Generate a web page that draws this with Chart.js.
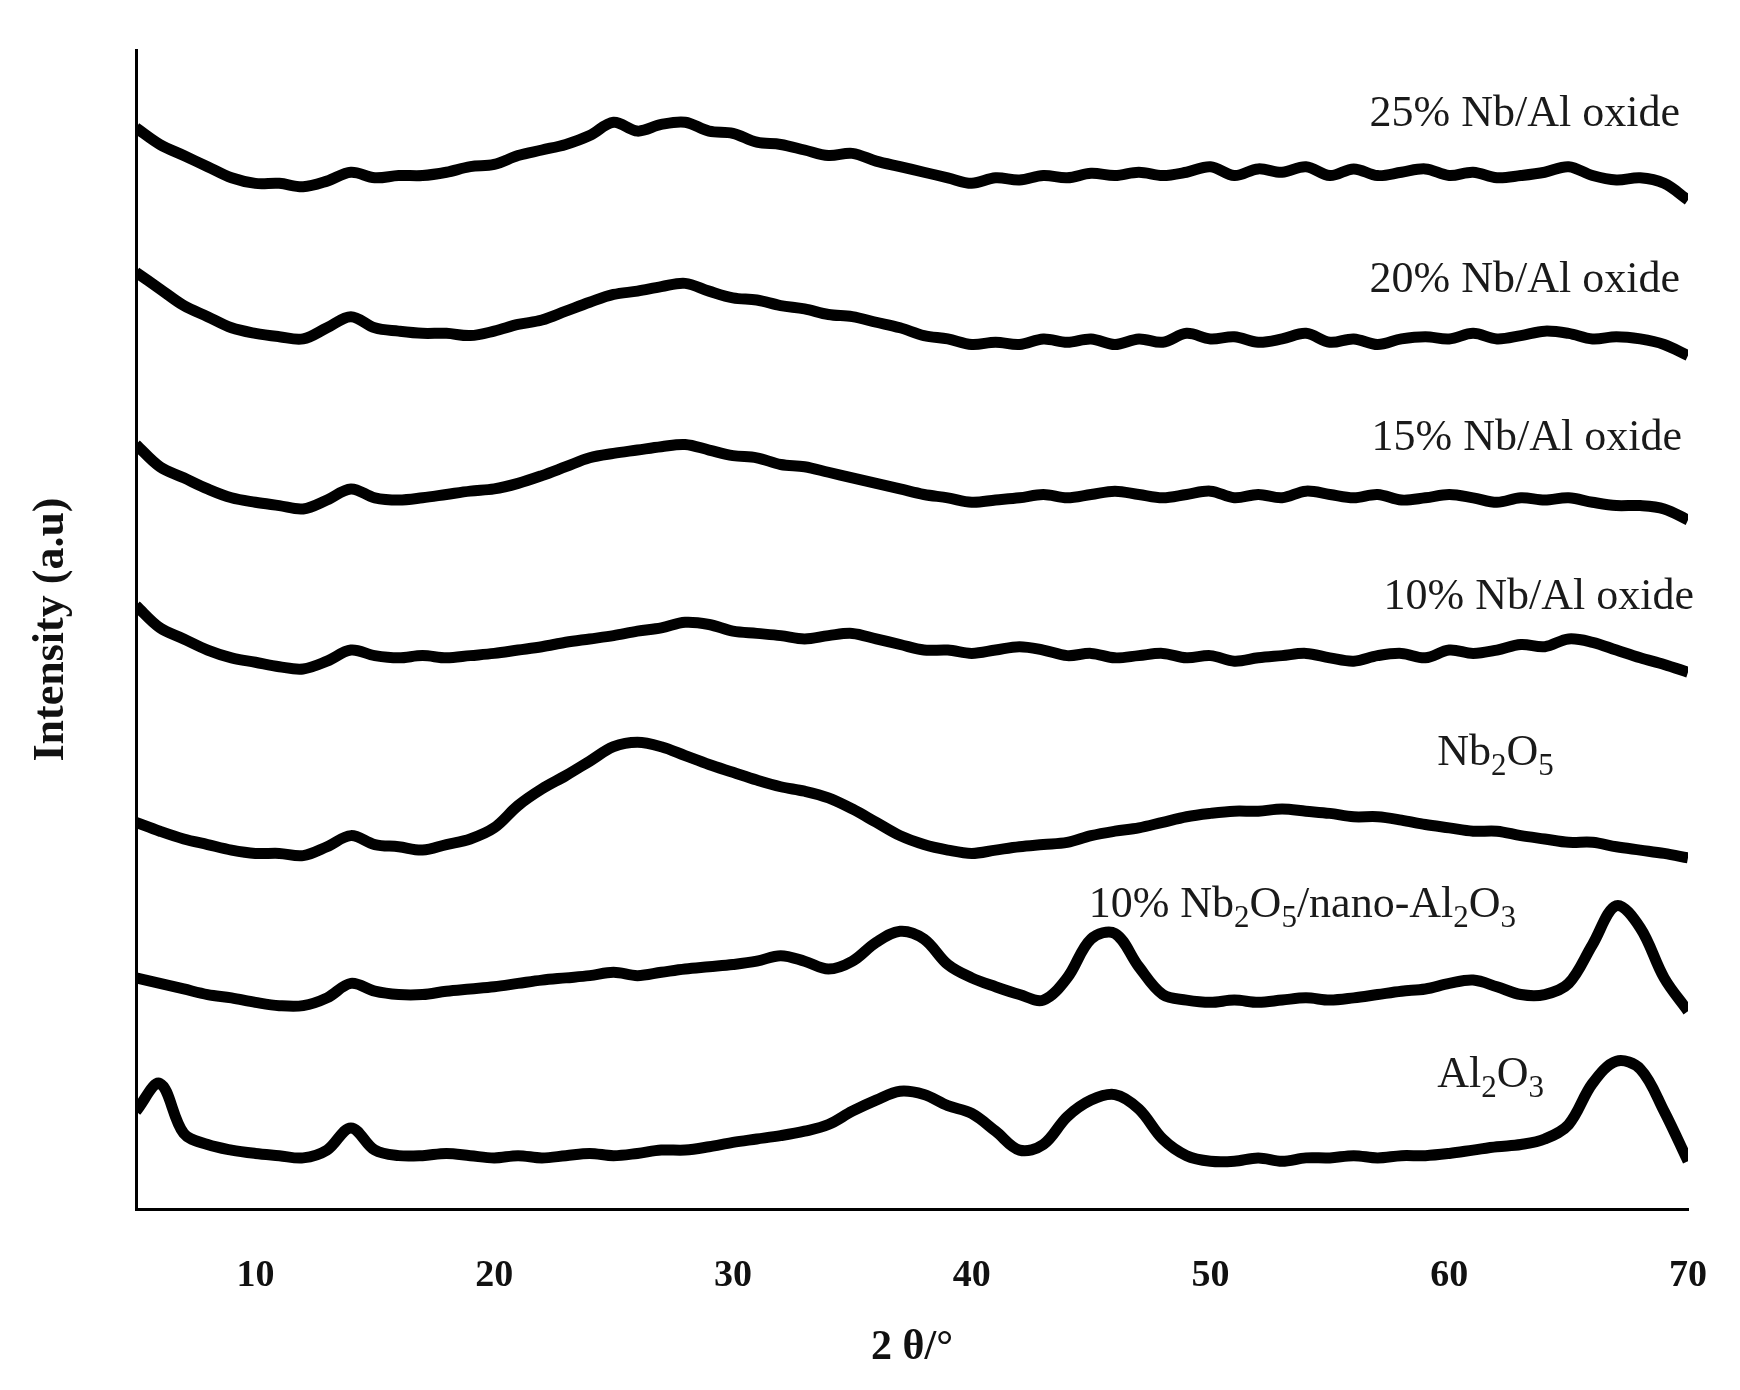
<!DOCTYPE html>
<html><head><meta charset="utf-8">
<script src="https://cdn.jsdelivr.net/npm/chart.js@4"></script>
<style>html,body{margin:0;padding:0;background:#fff}#w{width:1740px;height:1390px}</style>
</head><body><div id="w"><canvas id="c"></canvas></div>
<script>
const twoTheta = [];
for (let x = 5; x <= 70; x++) twoTheta.push(x);
const s25 = [973,958,948,938,928,923,923,920,925,933,928,930,930,933,938,940,948,953,958,966,978,970,976,978,970,968,960,958,953,948,950,943,938,933,928,923,928,926,930,928,932,930,933,930,933,938,930,936,933,938,930,936,930,933,936,930,933,928,930,933,938,930,926,928,923,908];
const s20 = [843,828,813,803,793,788,785,783,793,803,793,790,788,788,786,790,796,800,808,816,823,826,830,833,826,820,818,813,810,805,803,798,793,786,783,778,780,778,783,780,783,778,783,780,788,783,785,780,783,788,780,783,778,783,785,783,788,783,786,790,788,783,785,783,778,768];
const s15 = [688,668,658,648,640,636,633,630,638,648,640,638,640,643,646,648,653,660,668,676,680,683,686,688,683,678,676,670,668,663,658,653,648,643,640,636,638,640,643,640,643,646,643,640,643,646,640,643,640,646,643,640,643,638,640,643,640,636,640,638,640,636,633,633,630,620];
const s10 = [543,523,513,503,496,492,488,486,493,503,498,496,498,496,498,500,503,506,510,513,516,520,523,528,526,520,518,516,513,516,518,513,508,503,503,500,503,506,503,498,500,496,498,500,496,498,493,496,498,500,496,493,498,500,496,503,500,503,508,506,513,510,503,496,490,483];
const sNb = [348,340,333,328,323,320,320,318,326,336,328,326,323,328,333,343,363,378,390,403,416,420,416,408,400,393,386,380,376,370,360,348,336,328,323,320,323,326,328,330,336,340,343,348,353,356,358,358,360,358,356,353,353,350,346,343,340,340,336,333,330,330,326,323,320,316];
const sNano = [208,203,198,193,190,186,183,183,190,203,196,193,193,196,198,200,203,206,208,210,213,210,213,216,218,220,223,228,223,216,223,240,250,243,220,208,200,193,188,208,243,248,218,193,188,186,188,186,188,190,188,190,193,196,198,203,206,200,193,193,203,238,273,253,208,178];
const sAl = [88,113,68,58,53,50,48,46,53,73,53,48,48,50,48,46,48,46,48,50,48,50,53,53,56,60,63,66,70,76,88,98,106,103,93,86,70,53,58,83,98,103,90,63,48,43,43,46,43,46,46,48,46,48,48,50,53,56,58,63,76,113,133,126,88,43];
const xTicks = [10,20,30,40,50,60,70];

const labels = [
  {segs:[['25% Nb/Al oxide',0]], x:70, y:985, align:'right', dx:-8},
  {segs:[['20% Nb/Al oxide',0]], x:70, y:836, align:'right', dx:-8},
  {segs:[['15% Nb/Al oxide',0]], x:70, y:693, align:'right', dx:-6},
  {segs:[['10% Nb/Al oxide',0]], x:70, y:550, align:'right', dx:6},
  {segs:[['Nb',0],['2',1],['O',0],['5',1]], x:59.5, y:410, align:'left', dx:0},
  {segs:[['10% Nb',0],['2',1],['O',0],['5',1],['/nano-Al',0],['2',1],['O',0],['3',1]], x:44.9, y:273, align:'left', dx:0},
  {segs:[['Al',0],['2',1],['O',0],['3',1]], x:59.5, y:120, align:'left', dx:0}
];
const F = '"Liberation Serif","DejaVu Serif",serif';
const labelPlugin = {
  id:'lbl',
  afterDatasetsDraw(chart){
    const {ctx, scales:{x,y}} = chart;
    ctx.save(); ctx.fillStyle='#1a1a1a'; ctx.textBaseline='middle';
    labels.forEach(l=>{
      const main='44px '+F, sub='31px '+F;
      let w=0;
      l.segs.forEach(([t,s])=>{ctx.font=s?sub:main; w+=ctx.measureText(t).width;});
      let px = x.getPixelForValue(l.x)+l.dx; const py=y.getPixelForValue(l.y);
      if(l.align==='right') px-=w;
      ctx.textAlign='left';
      l.segs.forEach(([t,s])=>{ctx.font=s?sub:main; ctx.fillText(t,px,s?py+13:py); px+=ctx.measureText(t).width;});
    });
    ctx.restore();
  }
};
const mk = d => ({data:d, borderColor:'#000', borderWidth:11, pointRadius:0, tension:0.35, fill:false});
new Chart(document.getElementById('c'),{
  type:'line',
  data:{labels:twoTheta, datasets:[s25,s20,s15,s10,sNb,sNano,sAl].map(mk)},
  options:{
    responsive:true, maintainAspectRatio:false, animation:false,
    layout:{padding:{left:25,right:46,top:50,bottom:13}},
    plugins:{legend:{display:false},tooltip:{enabled:false}},
    scales:{
      x:{type:'linear',min:5,max:70,
        grid:{display:false,drawOnChartArea:false,drawTicks:true,tickLength:11,tickWidth:3,tickColor:'#000'},
        border:{color:'#000',width:3},
        ticks:{stepSize:5,padding:33,color:'#111',font:{family:F,size:38,weight:'bold'},maxRotation:0,autoSkip:false,
          callback:v=> xTicks.includes(v)? String(v):''},
        title:{display:true,text:'2 θ/°',color:'#111',font:{family:F,size:42,weight:'bold'},padding:{top:20}},
        afterFit(s){s.height=1390-1209-13;}
      },
      y:{min:0,max:1043,
        grid:{display:false,drawTicks:false},
        border:{color:'#000',width:3},
        ticks:{display:false},
        title:{display:true,text:'Intensity (a.u)',color:'#111',font:{family:F,size:44,weight:'bold'},padding:0},
        afterFit(s){s.width=111;}
      }
    }
  },
  plugins:[labelPlugin]
});
</script></body></html>
